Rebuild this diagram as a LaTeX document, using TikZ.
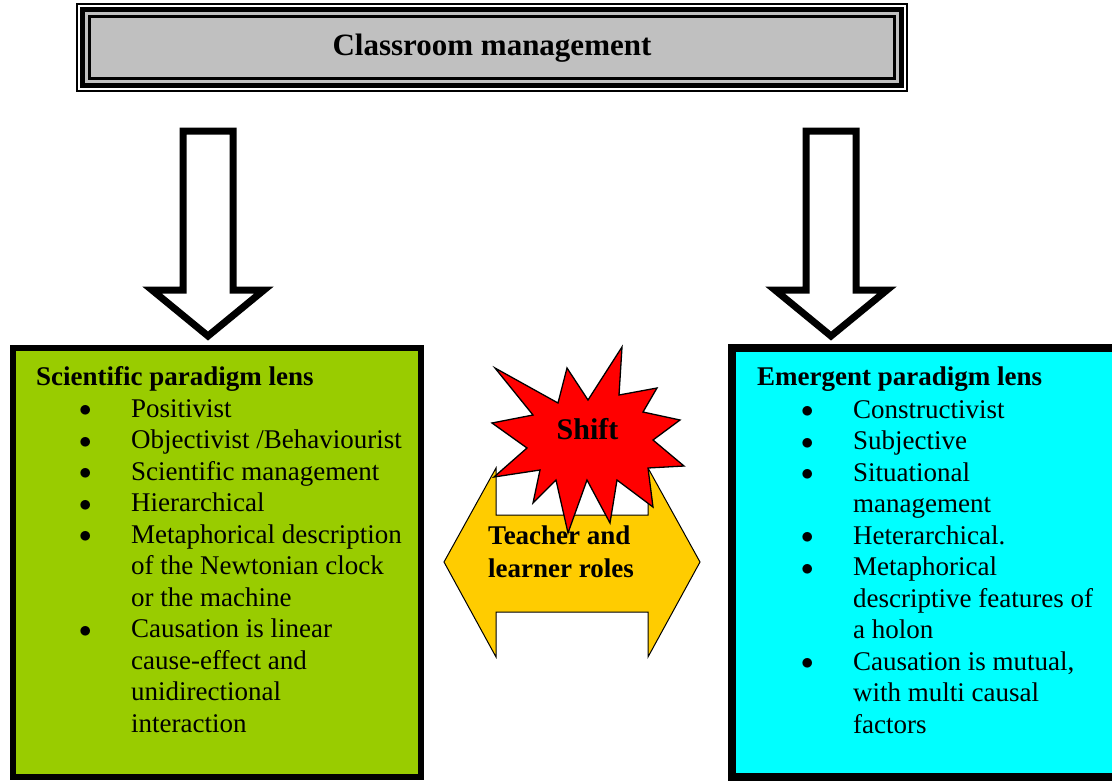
\documentclass[tikz,border=0pt]{standalone}
\usepackage{fontspec}
\setmainfont{Liberation Serif}
\usetikzlibrary{positioning}
\definecolor{titlegray}{RGB}{192,192,192}
\definecolor{sciengreen}{RGB}{153,204,0}
\definecolor{emergcyan}{RGB}{0,255,255}
\definecolor{rolesyellow}{RGB}{255,204,0}
\definecolor{shiftred}{RGB}{255,0,0}
\newcommand{\bodyfont}{\fontsize{27}{31.5}\selectfont}
\newcommand{\bul}{\raisebox{0.5pt}{\fontsize{36}{31.5}\selectfont$\bullet$}}
\begin{document}
\begin{tikzpicture}[x=1pt, y=-1pt,
    hollow/.style ={draw, line width=7, line join=miter, miter limit=10, fill=white},
    headtext/.style ={anchor=base west, inner sep=0pt, font=\bodyfont\bfseries},
    listtext/.style ={anchor=base west, inner sep=0pt, font=\bodyfont}]
   \useasboundingbox (0,0) rectangle (1112,780);
   \clip (0,0) rectangle (1112,780);
   % title box
   \draw[line width=1.3] (77,4) rectangle (907,91);
   \draw[line width=5] (82.5,9.5) rectangle (901.5,85.5);
   \fill[titlegray] (85,12) rectangle (899,83);
   \draw[line width=2.5] (89.5,16.5) rectangle (894.5,78.5);
   \node[font=\bfseries\fontsize{31}{37}\selectfont] (title) at (492,48) {Classroom management};
   % down arrows
   \foreach \cx in {208,831}
     \draw[hollow] (\cx-25,131) -- (\cx+25,131) -- (\cx+25,290) -- (\cx+56,290)
       -- (\cx,336) -- (\cx-56,290) -- (\cx-25,290) -- cycle;
   % paradigm boxes
   \draw[line width=6, fill=sciengreen] (13,348) rectangle (421,777);
   \draw[line width=8, fill=emergcyan] (732,348) rectangle (1130,777);
   \node[headtext] (scihead) at (36,385) {Scientific paradigm lens};
   \node[listtext] (scilist) at (79,417) {\begin{tabular}[t]{@{}p{52pt}@{}l@{}}
     \bul & Positivist\\
     \bul & Objectivist /Behaviourist\\
     \bul & Scientific management\\
     \bul & Hierarchical\\
     \bul & Metaphorical description\\
          & of the Newtonian clock\\
          & or the machine\\
     \bul & Causation is linear\\
          & cause-effect and\\
          & unidirectional\\
          & interaction
   \end{tabular}};
   \node[headtext] (emhead) at (757,385) {Emergent paradigm lens};
   \node[listtext] (emlist) at (801,418) {\begin{tabular}[t]{@{}p{52pt}@{}l@{}}
     \bul & Constructivist\\
     \bul & Subjective\\
     \bul & Situational\\
          & management\\
     \bul & Heterarchical.\\
     \bul & Metaphorical\\
          & descriptive features of\\
          & a holon\\
     \bul & Causation is mutual,\\
          & with multi causal\\
          & factors
   \end{tabular}};
   % double arrow and star
   \draw[fill=rolesyellow, line width=1] (444,562) -- (496,468) -- (496,515) -- (648,515)
     -- (648,468) -- (700,562) -- (648,657) -- (648,612) -- (496,612) -- (496,657) -- cycle;
   \draw[fill=shiftred, line width=1.3, line join=miter] (622,347) -- (619,395) -- (657,388)
     -- (643,412) -- (680,420) -- (653,440) -- (684,466) -- (648,468) -- (653,507)
     -- (617,480) -- (610,523) -- (587,480) -- (568,533) -- (556,480) -- (533,503)
     -- (540,470) -- (494,477) -- (527,448) -- (492,423) -- (533,415) -- (495,368)
     -- (558,403) -- (567,368) -- (588,400) -- cycle;
   \node[font=\bfseries\fontsize{30}{36}\selectfont, anchor=base, inner sep=0pt] (shift) at (587.5,439) {Shift};
   \node[anchor=base west, inner sep=0pt, font=\bfseries\fontsize{27}{33}\selectfont] (roles) at (488,544)
     {\begin{tabular}[t]{@{}l@{}}Teacher and\\learner roles\end{tabular}};
 \end{tikzpicture}
\end{document}
